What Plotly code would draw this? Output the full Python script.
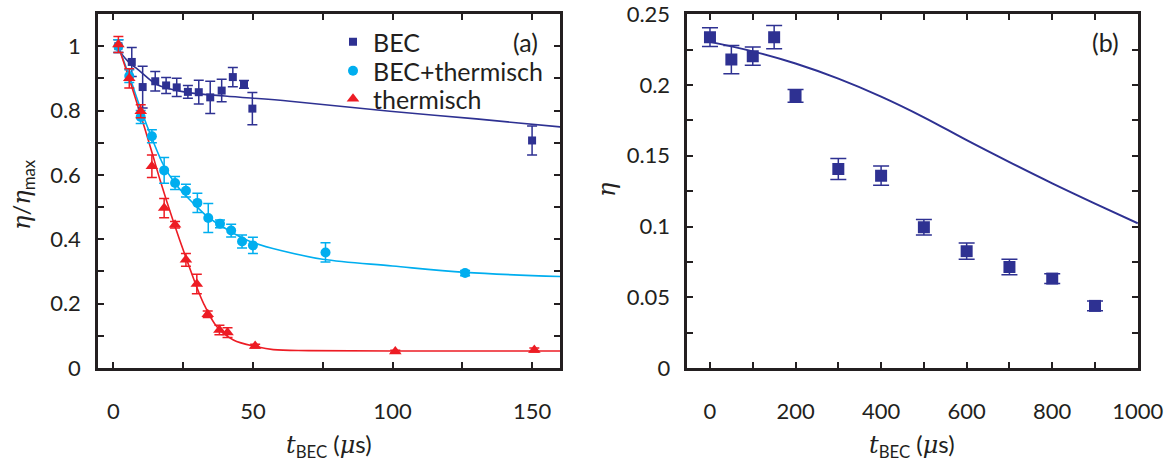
import plotly.graph_objects as go

# ---------------- data: panel (a) ----------------
bec_t = [1.8, 6.6, 10.5, 15.0, 18.9, 22.7, 26.7, 30.6, 34.7, 38.8, 42.8, 46.8, 49.8, 150.0]
bec_y = [1.0, 0.951, 0.873, 0.891, 0.878, 0.872, 0.858, 0.857, 0.841, 0.862, 0.904, 0.881, 0.806, 0.707]
bec_e = [0.02, 0.045, 0.065, 0.03, 0.025, 0.028, 0.02, 0.037, 0.05, 0.035, 0.03, 0.012, 0.05, 0.045]

mix_t = [1.8, 5.7, 9.8, 13.8, 18.2, 22.1, 26.0, 30.1, 34.0, 38.2, 42.2, 46.1, 50.0, 76.0, 126.0]
mix_y = [1.0, 0.907, 0.78, 0.72, 0.614, 0.575, 0.551, 0.513, 0.466, 0.448, 0.427, 0.393, 0.381, 0.359, 0.295]
mix_e = [0.02, 0.02, 0.02, 0.02, 0.04, 0.02, 0.02, 0.03, 0.045, 0.012, 0.02, 0.02, 0.025, 0.03, 0.008]

th_t = [1.8, 5.7, 9.8, 13.8, 18.2, 22.1, 26.0, 29.9, 33.8, 38.0, 40.9, 50.8, 101.0, 150.8]
th_y = [1.005, 0.9, 0.798, 0.627, 0.497, 0.445, 0.336, 0.261, 0.167, 0.118, 0.11, 0.068, 0.051, 0.056]
th_e = [0.025, 0.03, 0.02, 0.035, 0.03, 0.01, 0.02, 0.03, 0.01, 0.015, 0.015, 0.006, 0.004, 0.006]

# fit curves (panel a)
bec_fit_t = [1.8, 5, 9.6, 15.5, 20, 27.5, 40, 63.3, 99.1, 130, 165]
bec_fit_y = [0.99, 0.955, 0.922, 0.881, 0.868, 0.855, 0.845, 0.829, 0.798, 0.774, 0.745]

mix_fit_t = [1.8, 6, 10, 14, 18, 22, 26, 30, 34, 38, 42, 46, 50, 60, 75, 100, 126, 165]
mix_fit_y = [1.0, 0.9, 0.8, 0.71, 0.63, 0.575, 0.535, 0.5, 0.468, 0.445, 0.424, 0.405, 0.39, 0.365, 0.338, 0.317, 0.297, 0.283]

th_fit_t = [1.8, 6, 10, 14, 16.7, 21.5, 26.3, 32.3, 37.1, 43, 51.4, 57.3, 70, 100, 165]
th_fit_y = [1.0, 0.89, 0.78, 0.665, 0.585, 0.455, 0.336, 0.201, 0.128, 0.087, 0.066, 0.057, 0.054, 0.053, 0.053]

# ---------------- data: panel (b) ----------------
b_t = [0, 50, 100, 150, 200, 300, 400, 500, 600, 700, 800, 900]
b_y = [0.2338, 0.218, 0.2204, 0.2338, 0.1923, 0.1406, 0.1359, 0.0995, 0.0826, 0.0714, 0.0632, 0.0439]
b_e = [0.0066, 0.01, 0.0064, 0.0082, 0.0045, 0.0074, 0.0068, 0.0055, 0.0058, 0.0055, 0.0035, 0.0035]

b_fit_t = [0, 100, 200, 300, 400, 500, 600, 700, 800, 900, 1000]
b_fit_y = [0.2305, 0.2238, 0.2152, 0.2045, 0.1918, 0.1772, 0.161, 0.1455, 0.1305, 0.1162, 0.1023]

# tick labels
a_xticks = [0, 50, 100, 150]
a_yticks = [0, 0.2, 0.4, 0.6, 0.8, 1.0]
a_yticktext = ["0", "0.2", "0.4", "0.6", "0.8", "1"]
b_xticks = [0, 200, 400, 600, 800, 1000]
b_yticks = [0, 0.05, 0.1, 0.15, 0.2, 0.25]
b_yticktext = ["0", "0.05", "0.1", "0.15", "0.2", "0.25"]

NAVY = "#2E3192"
CYAN = "#00AEEF"
RED = "#ED1C24"
INK = "#231F20"
FONT = "Lato"

fig = go.Figure()

# fit lines (a)
for ft, fy, col in [(bec_fit_t, bec_fit_y, NAVY), (mix_fit_t, mix_fit_y, CYAN), (th_fit_t, th_fit_y, RED)]:
    fig.add_trace(go.Scatter(x=ft, y=fy, mode="lines", line=dict(color=col, width=1.6, shape="spline"),
                             showlegend=False, hoverinfo="skip", xaxis="x", yaxis="y"))

# data (a)
fig.add_trace(go.Scatter(x=bec_t, y=bec_y, mode="markers", name="BEC", legend="legend",
                         marker=dict(symbol="square", size=8, color=NAVY),
                         error_y=dict(type="data", array=bec_e, color=NAVY, thickness=1.5, width=5),
                         xaxis="x", yaxis="y"))
fig.add_trace(go.Scatter(x=mix_t, y=mix_y, mode="markers", name="BEC+thermisch", legend="legend2",
                         marker=dict(symbol="circle", size=10, color=CYAN),
                         error_y=dict(type="data", array=mix_e, color=CYAN, thickness=1.5, width=5),
                         xaxis="x", yaxis="y"))
fig.add_trace(go.Scatter(x=th_t, y=th_y, mode="markers", name="thermisch", legend="legend3",
                         marker=dict(symbol="triangle-up", size=11, color=RED),
                         error_y=dict(type="data", array=th_e, color=RED, thickness=1.5, width=5),
                         xaxis="x", yaxis="y"))

# panel (b)
fig.add_trace(go.Scatter(x=b_fit_t, y=b_fit_y, mode="lines", line=dict(color=NAVY, width=2, shape="spline"),
                         showlegend=False, hoverinfo="skip", xaxis="x2", yaxis="y2"))
fig.add_trace(go.Scatter(x=b_t, y=b_y, mode="markers", showlegend=False,
                         marker=dict(symbol="square", size=12, color=NAVY),
                         error_y=dict(type="data", array=b_e, color=NAVY, thickness=1.5, width=8),
                         xaxis="x2", yaxis="y2"))

W, H = 1164, 470
ax_common = dict(showline=True, linecolor=INK, linewidth=2.5, mirror="ticks", ticks="inside",
                 ticklen=6, tickwidth=2, tickcolor=INK, showgrid=False, zeroline=False, automargin=False,
                 ticklabeloverflow="allow",
                 tickfont=dict(family=FONT, size=22, color=INK))


def minor(d):
    return dict(dtick=d, tick0=0, ticks="inside", ticklen=6, tickwidth=2, tickcolor=INK)


legend_common = dict(xanchor="left", yanchor="middle", bgcolor="rgba(0,0,0,0)",
                     font=dict(family=FONT, size=25, color=INK), itemwidth=30)

fig.update_layout(
    width=W, height=H, margin=dict(l=0, r=0, t=0, b=0, autoexpand=False),
    paper_bgcolor="white", plot_bgcolor="white",
    font=dict(family=FONT, color=INK),
    xaxis=dict(ax_common, domain=[98 / W, 560 / W], range=[-5.5, 160], tickvals=a_xticks,
               minor=minor(25), ticklabelstandoff=22, anchor="y"),
    yaxis=dict(ax_common, domain=[1 - 368 / H, 1 - 14 / H], range=[0, 1.1], tickvals=a_yticks,
               ticktext=a_yticktext, minor=minor(0.1), ticklabelstandoff=10, anchor="x"),
    xaxis2=dict(ax_common, domain=[687.3 / W, 1138 / W], range=[-53, 1000.5], tickvals=b_xticks,
                minor=minor(100), ticklabelstandoff=22, anchor="y2"),
    yaxis2=dict(ax_common, domain=[1 - 368 / H, 1 - 14 / H], range=[0, 0.2502], tickvals=b_yticks,
                ticktext=b_yticktext, minor=minor(0.025), ticklabelstandoff=10, anchor="x2"),
    legend=dict(legend_common, x=333 / W, y=1 - 42 / H),
    legend2=dict(legend_common, x=333 / W, y=1 - 71 / H),
    legend3=dict(legend_common, x=333 / W, y=1 - 99 / H),
    showlegend=True,
)

serif = "font-family:'DejaVu Serif';font-style:italic"
ann = [
    dict(text="(a)", x=525 / W, y=1 - 42 / H, font=dict(size=25)),
    dict(text="(b)", x=1105 / W, y=1 - 42 / H, font=dict(size=25)),
    dict(text=f"<span style=\"{serif}\">η</span>/<span style=\"{serif}\">η</span><sub>max</sub>",
         x=22 / W, y=1 - 195 / H, textangle=-90, font=dict(size=24)),
    dict(text=f"<span style=\"{serif}\">η</span>", x=607 / W, y=1 - 190 / H, textangle=-90, font=dict(size=24)),
    dict(text=f"<span style=\"{serif}\">t</span><sub>BEC</sub> (<span style=\"{serif}\">μ</span>s)",
         x=329 / W, y=1 - 445 / H, font=dict(size=24)),
    dict(text=f"<span style=\"{serif}\">t</span><sub>BEC</sub> (<span style=\"{serif}\">μ</span>s)",
         x=912 / W, y=1 - 445 / H, font=dict(size=24)),
]
for a in ann:
    a.update(xref="paper", yref="paper", showarrow=False, xanchor="center", yanchor="middle")
    a["font"] = dict(family=FONT, color=INK, **a["font"])
fig.update_layout(annotations=ann)

fig.write_html("out.html")
